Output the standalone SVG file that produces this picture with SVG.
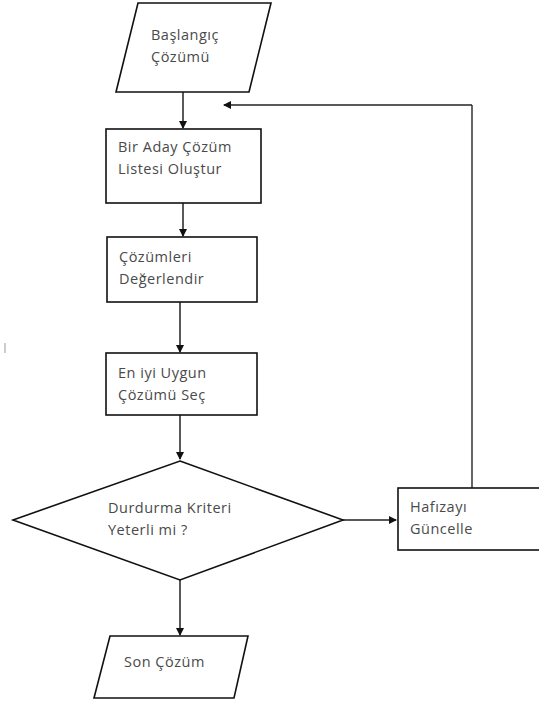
<svg xmlns="http://www.w3.org/2000/svg" width="539" height="704" viewBox="0 0 539 704">
<style>
.s{fill:#fff;stroke:#111;stroke-width:1.6}
.t{font-family:"Open Sans","Liberation Sans",sans-serif;font-size:14.5px;letter-spacing:0.5px;fill:#4a4a4a}
.c{fill:none;stroke:#222;stroke-width:1.5}
.g{fill:none;stroke:#555;stroke-width:1.8}
</style>
<defs>
<marker id="ah" markerWidth="8" markerHeight="8" refX="7" refY="4" orient="auto" markerUnits="userSpaceOnUse">
<path d="M0,0 L8,4 L0,8 Z" fill="#111"/>
</marker>
</defs>
<rect width="539" height="704" fill="#fff"/>
<g id="connectors">
<path class="c" d="M183,92 V128" marker-end="url(#ah)"/>
<path class="c" d="M183,203 V236" marker-end="url(#ah)"/>
<path class="c" d="M180,302 V352" marker-end="url(#ah)"/>
<path class="c" d="M180,415 V459" marker-end="url(#ah)"/>
<path class="c" d="M180,580 V635" marker-end="url(#ah)"/>
<path class="c" d="M343,520 H396" marker-end="url(#ah)"/>
<path class="g" d="M472,488 V105"/>
<path class="c" d="M472,105 H224" marker-end="url(#ah)"/>
</g>
<g id="start">
<polygon class="s" points="138,3 271,3 249,92 116,92"/>
<text class="t" x="151" y="40">Başlangıç</text>
<text class="t" x="151" y="62">Çözümü</text>
</g>
<g id="create-list">
<rect class="s" x="106" y="129" width="155" height="74"/>
<text class="t" x="118" y="152">Bir Aday Çözüm</text>
<text class="t" x="118" y="174">Listesi Oluştur</text>
</g>
<g id="evaluate">
<rect class="s" x="107" y="237" width="150" height="65"/>
<text class="t" x="119" y="262">Çözümleri</text>
<text class="t" x="119" y="284">Değerlendir</text>
</g>
<g id="select">
<rect class="s" x="106" y="353" width="151" height="62"/>
<text class="t" x="118" y="378">En iyi Uygun</text>
<text class="t" x="118" y="400">Çözümü Seç</text>
</g>
<g id="decision">
<polygon class="s" points="180,461 343,520 180,580 13,520"/>
<text class="t" x="108" y="513">Durdurma Kriteri</text>
<text class="t" x="108" y="535">Yeterli mi ?</text>
</g>
<g id="update-memory">
<rect class="s" x="398" y="488" width="145" height="62"/>
<text class="t" x="410" y="512">Hafızayı</text>
<text class="t" x="410" y="534">Güncelle</text>
</g>
<g id="end">
<polygon class="s" points="110,636 248,636 234,698 94,698"/>
<text class="t" x="124" y="667">Son Çözüm</text>
</g>
<line x1="5" y1="343" x2="5" y2="353" stroke="#999" stroke-width="1"/>
</svg>
